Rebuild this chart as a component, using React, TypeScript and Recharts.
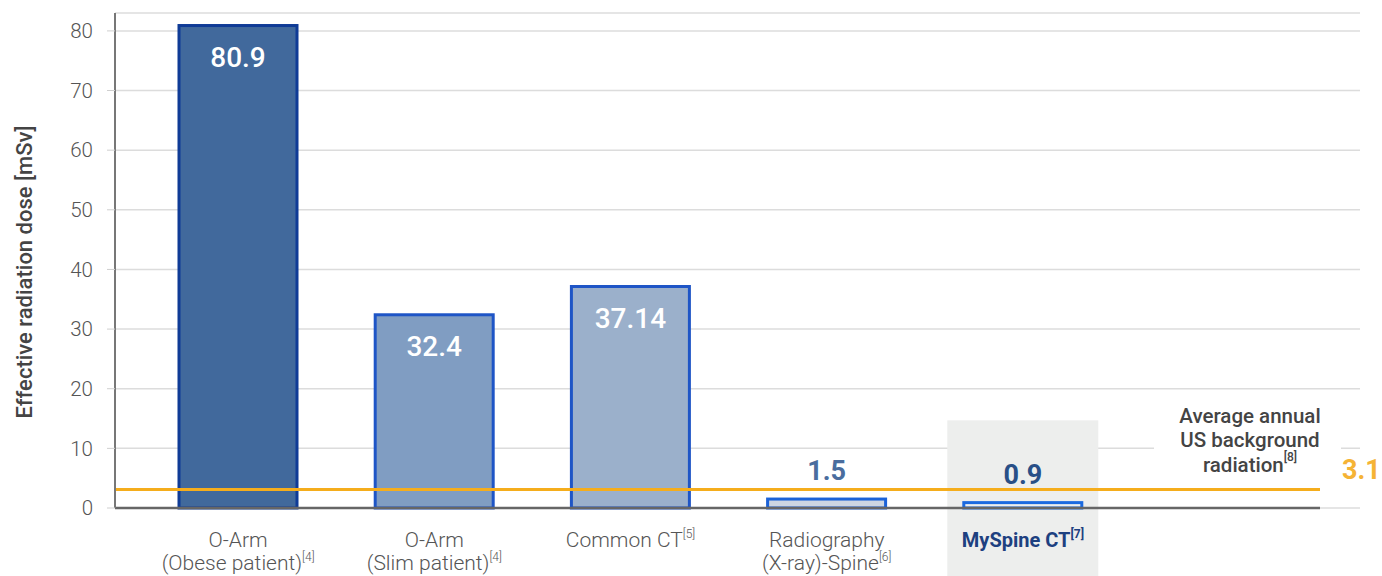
import { BarChart, Bar, XAxis, YAxis, CartesianGrid, ReferenceLine, LabelList, Cell } from "recharts";

// Effective radiation dose per imaging modality [mSv]
const categories = [
  "O-Arm (Obese patient)",
  "O-Arm (Slim patient)",
  "Common CT",
  "Radiography (X-ray)-Spine",
  "MySpine CT",
];
const tickLines = [
  ["O-Arm", "(Obese patient)"],
  ["O-Arm", "(Slim patient)"],
  ["Common CT"],
  ["Radiography", "(X-ray)-Spine"],
  ["MySpine CT"],
];
const citations = ["[4]", "[4]", "[5]", "[6]", "[7]"];
const doses = [80.9, 32.4, 37.14, 1.5, 0.9];

const backgroundDose = 3.1;
const backgroundLabel = ["Average annual", "US background", "radiation"];
const backgroundCitation = "[8]";

const yTicks = [0, 10, 20, 30, 40, 50, 60, 70, 80];

const FILLS = ["#41699c", "#809dc2", "#9bb0cb", "#cdd6e1", "#eeefee"];
const STROKES = ["#0f3b96", "#1e55c6", "#1e55c6", "#1b62d8", "#1b6ae0"];
const PANEL = "#edeeed";
const HIGHLIGHT = categories.length - 1;

const data = categories.map((name, i) => ({ name, dose: doses[i] }));

const BarShape = (props: any) => {
  const { x, y, width, height, index, payload } = props;
  const base = y + height;
  const pxPerUnit = height / payload.dose;
  const panelTop = base - 14.7 * pxPerUnit;
  return (
    <g>
      {index === HIGHLIGHT && (
        <rect x={x + width / 2 - 75.5} y={panelTop} width={151} height={base + 68 - panelTop} fill={PANEL} />
      )}
      <rect x={x} y={y} width={width} height={height} fill={FILLS[index]} stroke={STROKES[index]} strokeWidth={3} />
    </g>
  );
};

const ValueLabel = (props: any) => {
  const { x, y, width, value, index } = props;
  const cx = x + width / 2;
  if (value > 10) {
    return (
      <text x={cx} y={y + 32} textAnchor="middle" dominantBaseline="central" fill="#fff" fontSize={28} fontWeight={500}>
        {value}
      </text>
    );
  }
  return (
    <text
      x={cx}
      y={y - 28}
      textAnchor="middle"
      dominantBaseline="central"
      fill={index === HIGHLIGHT ? "#284f87" : "#4a6d9e"}
      fontSize={27}
      fontWeight={700}
    >
      {value}
    </text>
  );
};

const CategoryTick = (props: any) => {
  const { x, y, payload } = props;
  const i = categories.indexOf(payload.value);
  const lines = tickLines[i];
  const hl = i === HIGHLIGHT;
  return (
    <g>
      {lines.map((line, k) => (
        <text
          key={k}
          x={x}
          y={y + 31 + k * 23}
          textAnchor="middle"
          fontSize={hl ? 20 : 21}
          fontWeight={hl ? 700 : 300}
          fill={hl ? "#1d4080" : "#555"}
        >
          {line}
          {k === lines.length - 1 && (
            <tspan fontSize={12} dy={-9}>
              {citations[i]}
            </tspan>
          )}
        </text>
      ))}
    </g>
  );
};

const BackgroundLabel = (props: any) => {
  const { viewBox } = props;
  const right = viewBox.x + viewBox.width;
  const ly = viewBox.y;
  return (
    <g>
      <rect x={right - 166} y={ly - 92} width={187} height={80} fill="#fff" />
      {backgroundLabel.map((line, k) => (
        <text
          key={k}
          x={right - 70}
          y={ly - 74 + k * 24.5}
          textAnchor="middle"
          dominantBaseline="central"
          fontSize={20.5}
          fontWeight={500}
          fill="#444"
        >
          {line}
          {k === backgroundLabel.length - 1 && (
            <tspan fontSize={12} dy={-8}>
              {backgroundCitation}
            </tspan>
          )}
        </text>
      ))}
      <text x={right + 22} y={ly - 20} dominantBaseline="central" fontSize={27} fontWeight={700} fill="#f5b335">
        {backgroundDose}
      </text>
    </g>
  );
};

const YLabel = () => (
  <text
    x={24}
    y={272}
    transform="rotate(-90, 24, 272)"
    textAnchor="middle"
    dominantBaseline="central"
    fontSize={22}
    fontWeight={500}
    fill="#444"
  >
    Effective radiation dose [mSv]
  </text>
);

export default function App() {
  return (
    <div style={{ position: "absolute", left: 0, top: 0, fontFamily: "Roboto, sans-serif" }}>
      <BarChart width={1382} height={576} data={data} margin={{ top: 13, right: 62, bottom: 0, left: 55 }}>
        <CartesianGrid horizontal vertical={false} stroke="#dcdcdc" strokeWidth={1.5} x={115} width={1245} />
        <Bar dataKey="dose" barSize={118} isAnimationActive={false} shape={<BarShape />}>
          {data.map((_, i) => (
            <Cell key={i} fill={FILLS[i]} stroke={STROKES[i]} />
          ))}
          <LabelList dataKey="dose" content={<ValueLabel />} />
        </Bar>
        <ReferenceLine y={backgroundDose} stroke="#f5ad1c" strokeWidth={3} label={<BackgroundLabel />} />
        <XAxis
          dataKey="name"
          interval={0}
          height={68}
          padding={{ left: 25, right: 199 }}
          tickLine={false}
          axisLine={{ stroke: "#666", strokeWidth: 2.5 }}
          tick={<CategoryTick />}
        />
        <YAxis
          width={60}
          domain={[0, 83]}
          ticks={yTicks}
          interval={0}
          tickSize={8}
          tickMargin={14}
          tickLine={{ stroke: "#cfcfcf" }}
          axisLine={{ stroke: "#777", strokeWidth: 2 }}
          tick={{ fill: "#555", fontSize: 20.5, fontWeight: 300 }}
          label={<YLabel />}
        />
      </BarChart>
    </div>
  );
}
